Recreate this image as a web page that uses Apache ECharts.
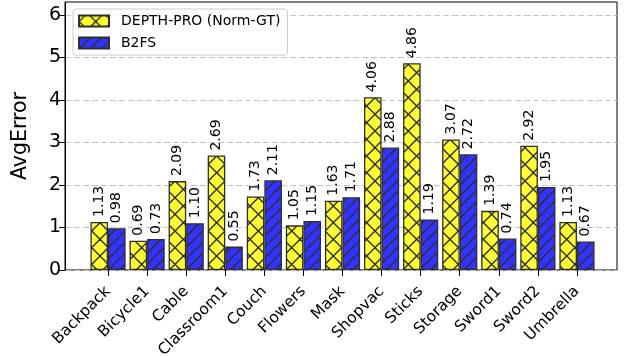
<!DOCTYPE html>
<html>
<head>
<meta charset="utf-8">
<script src="https://cdn.jsdelivr.net/npm/echarts@6/dist/echarts.min.js"></script>
<style>
  html, body { margin: 0; padding: 0; background: #fff; }
  #chart { width: 624px; height: 356px; }
</style>
</head>
<body>
<div id="chart"></div>
<script>
// Per-scene average error of the two methods
const categories = ['Backpack', 'Bicycle1', 'Cable', 'Classroom1', 'Couch', 'Flowers', 'Mask',
  'Shopvac', 'Sticks', 'Storage', 'Sword1', 'Sword2', 'Umbrella'];
const depthProValues = [1.13, 0.69, 2.09, 2.69, 1.73, 1.05, 1.63, 4.06, 4.86, 3.07, 1.39, 2.92, 1.13];
const b2fsValues = [0.98, 0.73, 1.10, 0.55, 2.11, 1.15, 1.71, 2.88, 1.19, 2.72, 0.74, 1.95, 0.67];
const yTickValues = [0, 1, 2, 3, 4, 5, 6];
const seriesNames = ['DEPTH-PRO (Norm-GT)', 'B2FS'];

const FONT = 'DejaVu Sans';
const EDGE = '#2e2e2e';

// Repeating hatch tile (100 px): n '/' lines per tile, optionally crossed with '\' lines.
// The tile is shifted so the hatch is anchored to the bottom-left of the chart.
function hatch(fill, n, crossed) {
  const size = 100;
  const c = document.createElement('canvas');
  c.width = size; c.height = size;
  const ctx = c.getContext('2d');
  ctx.fillStyle = fill;
  ctx.fillRect(0, 0, size, size);
  ctx.strokeStyle = EDGE;
  ctx.lineWidth = 1.4;
  for (let k = -n; k <= 2 * n; k++) {
    const o = k * size / n;
    ctx.beginPath();
    ctx.moveTo(o, size); ctx.lineTo(o + size, 0);
    ctx.stroke();
    if (crossed) {
      ctx.beginPath();
      ctx.moveTo(o, 0); ctx.lineTo(o + size, size);
      ctx.stroke();
    }
  }
  return { image: c, repeat: 'repeat', x: 0, y: 356 % size };
}

const yellowFill = hatch('#ffff33', 6, true);
const blueFill = hatch('#3333ff', 9, false);

const valueLabel = {
  show: true,
  position: 'top',
  rotate: 90,
  align: 'left',
  verticalAlign: 'middle',
  distance: 5,
  fontFamily: FONT,
  fontSize: 14,
  color: '#000',
  formatter: p => p.value.toFixed(2)
};

const chart = echarts.init(document.getElementById('chart'), null, { renderer: 'canvas' });
chart.setOption({
  animation: false,
  textStyle: { fontFamily: FONT },
  grid: [
    { left: 65, right: 7, top: 2, bottom: 86, outerBoundsMode: 'none', containLabel: false,
      show: true, borderColor: '#000', borderWidth: 1, backgroundColor: 'transparent' },
    { left: 88.5, right: 27.5, top: 2, bottom: 86, outerBoundsMode: 'none', containLabel: false }
  ],
  legend: {
    orient: 'vertical',
    left: 73, top: 9,
    itemWidth: 30, itemHeight: 11, itemGap: 8,
    padding: [5, 7, 5, 5],
    borderColor: '#cccccc', borderWidth: 1, borderRadius: 3,
    backgroundColor: 'rgba(255,255,255,0.8)',
    textStyle: { fontFamily: FONT, fontSize: 14, color: '#000', padding: [0, 0, 0, 7] },
    data: seriesNames.map(n => ({ name: n, icon: 'rect' }))
  },
  xAxis: [
    { gridIndex: 0, type: 'value', min: 0, max: 1, show: false },
    {
      gridIndex: 1, type: 'category', data: categories,
      axisLine: { show: false },
      axisTick: { show: true, alignWithLabel: true, length: 6, lineStyle: { color: '#000' } },
      axisLabel: { rotate: 45, interval: 0, margin: 19,
        fontFamily: FONT, fontSize: 15.5, color: '#000' }
    }
  ],
  yAxis: [
    {
      gridIndex: 0, type: 'value', min: 0, max: 6.3, interval: 1,
      name: 'AvgError', nameLocation: 'middle', nameGap: 34,
      nameTextStyle: { fontFamily: FONT, fontSize: 20.5, color: '#000' },
      axisLine: { show: true, lineStyle: { color: '#000' } },
      axisTick: { show: true, length: 6, lineStyle: { color: '#000' }, customValues: yTickValues },
      axisLabel: { margin: 4, fontFamily: FONT, fontSize: 19, color: '#000', customValues: yTickValues },
      splitLine: { show: true, lineStyle: { color: '#c4c4c4', type: [6, 3], width: 1 } }
    },
    { gridIndex: 1, type: 'value', min: 0, max: 6.3, show: false }
  ],
  series: [
    {
      name: seriesNames[0], type: 'bar', xAxisIndex: 1, yAxisIndex: 1,
      data: depthProValues, barWidth: '45%', barGap: '0%',
      itemStyle: { color: yellowFill, borderColor: EDGE, borderWidth: 1.3 },
      label: valueLabel
    },
    {
      name: seriesNames[1], type: 'bar', xAxisIndex: 1, yAxisIndex: 1,
      data: b2fsValues, barWidth: '45%', barGap: '0%',
      itemStyle: { color: blueFill, borderColor: EDGE, borderWidth: 1.3 },
      label: valueLabel
    }
  ]
});
</script>
</body>
</html>
